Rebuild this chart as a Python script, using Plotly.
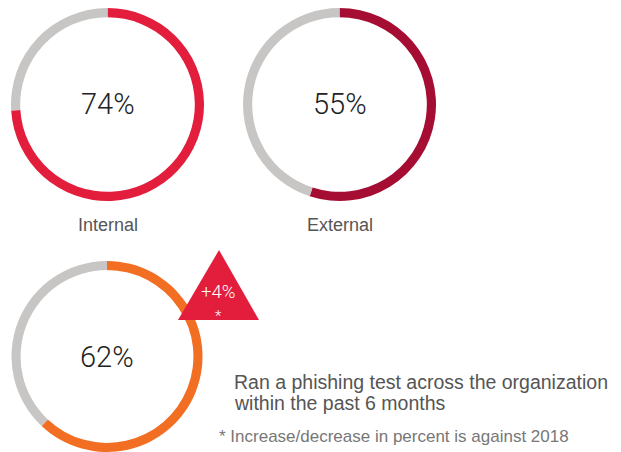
import plotly.graph_objects as go

# page body has an 8px margin, so figure is sized to the remaining window area
OFF = 8
W, H = 621 - OFF, 452 - OFF

labels = ["Internal", "External", "Organization-wide"]
values = [74, 55, 62]
change_label = "+4%"
colors = ["#E31D3C", "#A50E32", "#F26E23"]
rest_color = "#C8C6C4"


def fx(x):
    return (x - OFF) / W


def fy(y):
    return 1 - (y - OFF) / H


# reference pixel geometry (center x, center y, diameter)
geo = [(107.5, 104, 194), (339.5, 104, 194), (107, 357, 192)]

fig = go.Figure()
for i, (lab, v) in enumerate(zip(labels, values)):
    cx, cy, d = geo[i]
    x0, x1 = fx(cx - d / 2), fx(cx + d / 2)
    y0, y1 = max(0, fy(cy + d / 2)), min(1, fy(cy - d / 2))
    fig.add_trace(go.Pie(
        values=[v, 100 - v],
        labels=[lab, "Other"],
        marker=dict(colors=[colors[i], rest_color], line=dict(width=0)),
        hole=0.905,
        sort=False,
        direction="clockwise",
        rotation=0,
        textinfo="none",
        hoverinfo="none",
        showlegend=False,
        domain=dict(x=[x0, x1], y=[y0, y1]),
    ))
    fig.add_annotation(x=fx(cx), y=fy(cy), xref="paper", yref="paper",
                       xanchor="center", yanchor="middle",
                       text=f"{v}%", showarrow=False,
                       font=dict(family="Roboto", size=29, color="#222222", weight=300))

for i in range(2):
    cx = geo[i][0]
    fig.add_annotation(x=fx(cx), y=fy(225), xref="paper", yref="paper",
                       xanchor="center", yanchor="middle",
                       text=labels[i], showarrow=False,
                       font=dict(family="Liberation Sans", size=18, color="#555555"))

# triangle marker for change
fig.add_shape(type="path", xref="paper", yref="paper", layer="above",
              path=f"M {fx(178)} {fy(320)} L {fx(219)} {fy(250)} L {fx(259)} {fy(320)} Z",
              fillcolor="#E31D3C", line=dict(width=0))
fig.add_annotation(x=fx(218), y=fy(292), xref="paper", yref="paper",
                   xanchor="center", yanchor="middle", borderpad=0,
                   text=change_label, showarrow=False,
                   font=dict(family="Roboto", size=18.5, color="white", weight=300))
fig.add_annotation(x=fx(218), y=fy(316), xref="paper", yref="paper",
                   xanchor="center", yanchor="middle", borderpad=0,
                   text="*", showarrow=False,
                   font=dict(family="Roboto", size=15, color="white", weight=300))

main_lines = ["Ran a phishing test across the organization", "within the past 6 months"]
for j, line in enumerate(main_lines):
    fig.add_annotation(x=fx(232), y=fy(382 + 21 * j), xref="paper", yref="paper",
                       xanchor="left", yanchor="middle", align="left",
                       text=line, showarrow=False,
                       font=dict(family="Liberation Sans", size=19.5, color="#555555"))
fig.add_annotation(x=fx(217), y=fy(436), xref="paper", yref="paper",
                   xanchor="left", yanchor="middle", align="left",
                   text="* Increase/decrease in percent is against 2018",
                   showarrow=False,
                   font=dict(family="Liberation Sans", size=17, color="#777777"))

fig.update_layout(width=W, height=H, margin=dict(l=0, r=0, t=0, b=0),
                  paper_bgcolor="white", plot_bgcolor="white")
fig.write_html("out.html")
